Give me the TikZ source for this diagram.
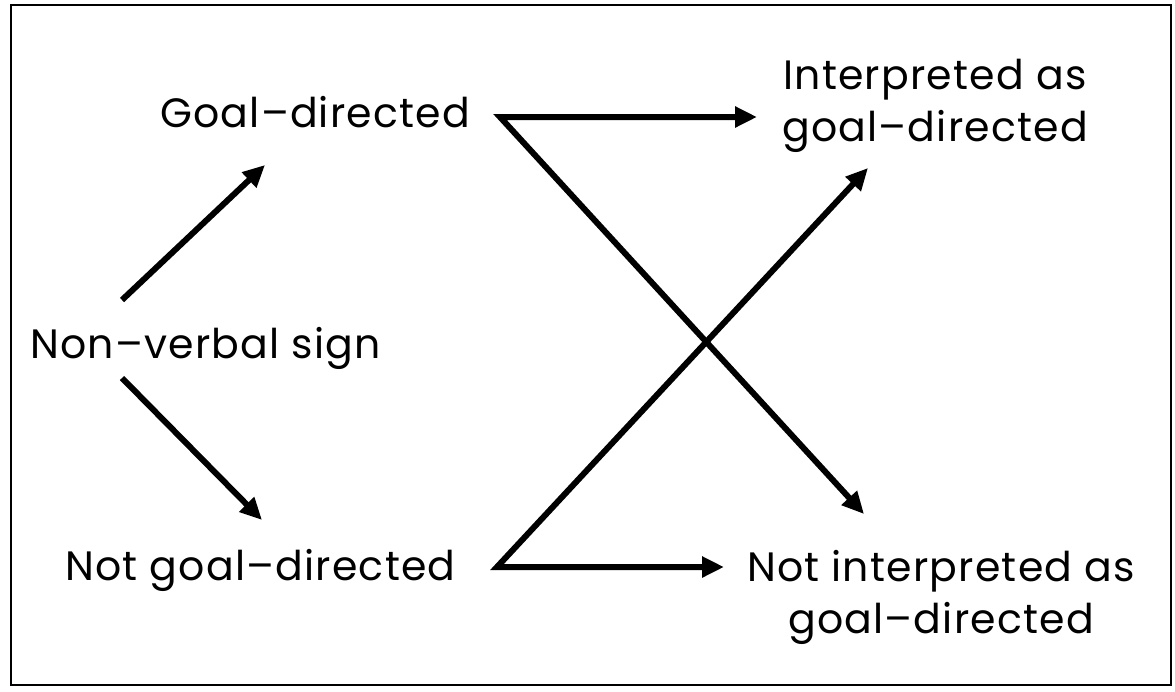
\documentclass[tikz,border=0pt]{standalone}
\usepackage{fontspec}
\setmainfont{Poppins}[LetterSpace=3]
\usetikzlibrary{arrows.meta}
\tikzset{
  lbl/.style={font=\fontsize{41}{52}\selectfont, inner sep=0pt, text=black},
  conn/.style={line width=6pt, line join=miter, -{Triangle[length=22pt,width=20pt]}},
  conn2/.style={line width=6pt, line join=miter, {Triangle[length=22pt,width=20pt]}-{Triangle[length=22pt,width=20pt]}},
}
\begin{document}
\begin{tikzpicture}[x=1pt,y=-1pt]
\useasboundingbox (0,0) rectangle (1175,691);
\draw[line width=2pt] (11,5) rectangle (1171,685);
\node[lbl, anchor=base west] (gd) at (160,127) {Goal–directed};
\node[lbl, anchor=base west] (nv) at (30,358) {Non–verbal sign};
\node[lbl, anchor=base west] (ngd) at (65,580) {Not goal–directed};
\node[lbl, align=center, anchor=base] (igd) at (935,141) {Interpreted as\\goal–directed};
\node[lbl, align=center, anchor=base] (nigd) at (941,633) {Not interpreted as\\goal–directed};
\coordinate (nvup) at (122,300);
\coordinate (nvdn) at (122,378);
\coordinate (gdin) at (265,165);
\coordinate (ngdin) at (262,520);
\coordinate (gdout) at (500,117);
\coordinate (ngdout) at (497,567);
\coordinate (igdin) at (757,117);
\coordinate (igdin2) at (868,168);
\coordinate (nigdin) at (724,567);
\coordinate (nigdin2) at (864,514);
\draw[conn] (nvup) -- (gdin);
\draw[conn] (nvdn) -- (ngdin);
\draw[conn2] (igdin) -- (gdout) -- (nigdin2);
\draw[conn2] (nigdin) -- (ngdout) -- (igdin2);
\end{tikzpicture}
\end{document}
